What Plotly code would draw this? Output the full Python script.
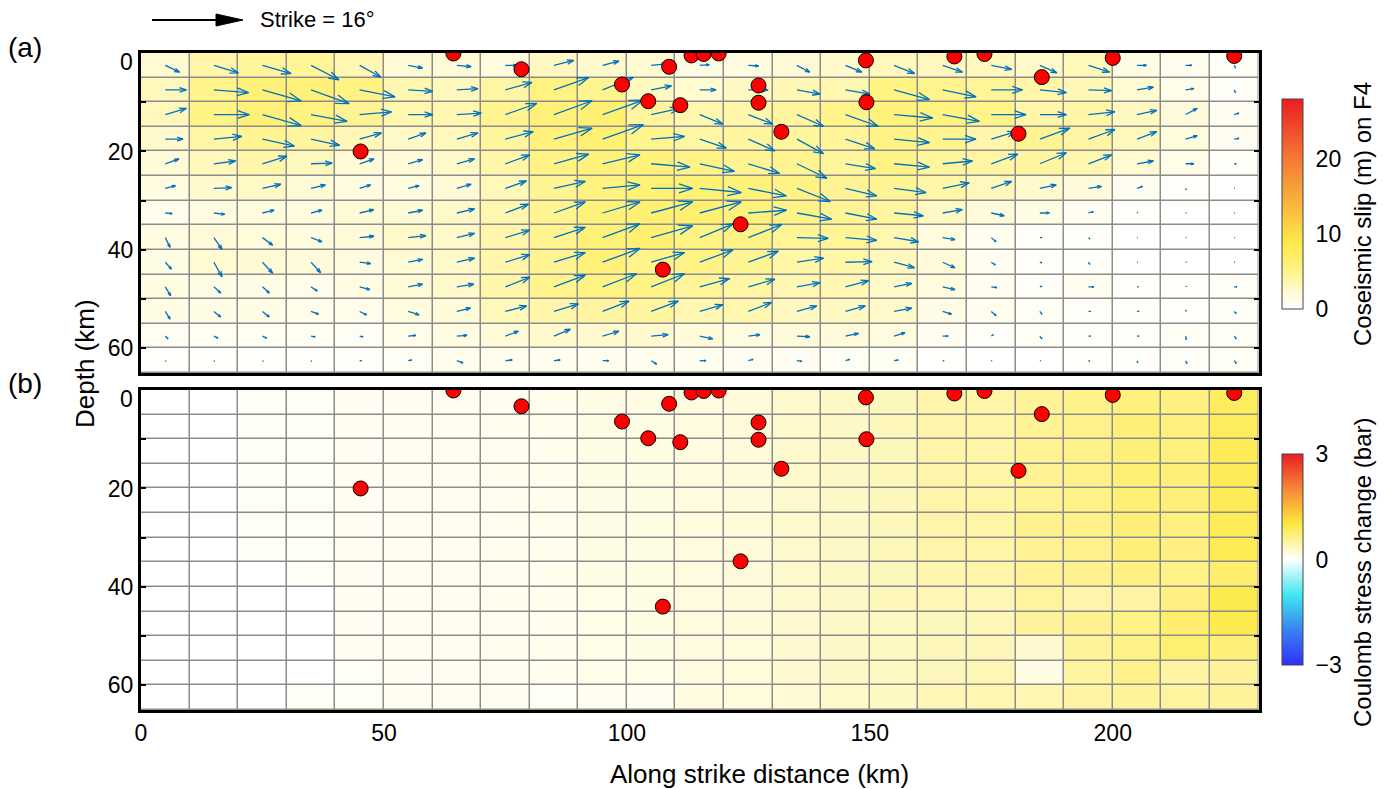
import numpy as np
import plotly.graph_objects as go

# ---------------- fault grid (10 km along strike x 5 km down dip) ----------------
x_centers = np.arange(5, 230, 10)          # 23 patches along strike (km)
depth_centers = np.arange(2.5, 65, 5)      # 13 patches down dip (km)

# coseismic slip components on each patch (m): along strike / down the plot
strike_slip = [
    [2.1, 3.6, 4.2, 4.1, 3.1, 2.1, 2.1, 1.7, 2.9, 2.4, 2.3, 1.4, 1.5, 1.9, 2.4, 3.0, 2.9, 3.0, 2.5, 3.1, 1.4, 0.9, 0.2],
    [3.1, 5.1, 5.7, 5.6, 5.2, 3.6, 3.1, 3.9, 5.1, 4.5, 3.0, 2.4, 2.9, 3.4, 3.6, 5.2, 4.9, 4.6, 3.9, 3.4, 2.4, 1.2, 0.2],
    [3.1, 5.2, 5.7, 5.3, 4.7, 3.6, 3.6, 4.6, 5.6, 6.0, 4.2, 3.4, 3.6, 3.9, 4.8, 5.7, 5.4, 5.1, 3.9, 3.9, 2.9, 1.7, 0.7],
    [2.6, 4.1, 4.7, 4.2, 3.2, 2.6, 3.1, 4.1, 5.6, 6.0, 4.9, 3.9, 3.9, 3.9, 4.3, 5.2, 4.9, 3.6, 4.4, 3.9, 2.9, 1.7, 0.7],
    [2.0, 3.2, 3.6, 3.1, 2.1, 2.1, 2.6, 3.6, 5.1, 5.5, 5.7, 5.1, 4.6, 4.4, 4.4, 5.2, 4.4, 3.9, 3.9, 3.4, 2.4, 1.2, 0.3],
    [1.5, 2.6, 2.7, 2.1, 1.6, 1.6, 2.1, 3.1, 4.6, 5.5, 6.1, 6.1, 5.6, 4.9, 4.6, 4.7, 3.9, 3.0, 2.4, 1.9, 0.8, 0.1, 0.1],
    [1.0, 1.6, 1.7, 1.6, 2.1, 2.1, 2.6, 3.4, 4.6, 5.5, 6.1, 6.1, 5.6, 5.1, 4.6, 4.3, 2.9, 1.9, 1.4, 0.7, 0.1, 0.1, 0.1],
    [0.7, 1.2, 1.5, 1.6, 2.1, 2.6, 2.6, 3.6, 4.6, 5.5, 6.1, 4.9, 4.9, 4.6, 4.6, 3.6, 1.8, 0.7, 0.3, 0.2, 0.1, 0.1, 0.1],
    [0.9, 1.2, 1.5, 1.4, 1.6, 2.1, 2.6, 3.6, 4.6, 5.5, 4.9, 4.9, 4.4, 3.9, 3.9, 3.0, 1.8, 0.6, 0.3, 0.2, 0.1, 0.1, 0.1],
    [0.8, 1.0, 1.0, 0.9, 1.5, 2.1, 2.5, 3.6, 4.6, 5.0, 4.9, 4.4, 3.9, 3.4, 3.4, 2.6, 1.8, 0.8, 0.3, 0.8, 0.2, 0.1, 0.4],
    [0.7, 1.0, 1.0, 1.1, 1.0, 1.6, 2.0, 3.1, 3.6, 3.9, 4.0, 3.4, 3.4, 2.9, 2.9, 2.6, 1.3, 0.7, 0.3, 0.3, 0.3, 0.1, 0.3],
    [0.4, 0.6, 0.6, 0.6, 0.5, 1.1, 1.5, 1.9, 2.4, 2.4, 2.5, 1.9, 1.7, 1.9, 1.9, 1.6, 0.8, 0.3, 0.3, 0.3, 0.3, 0.1, 0.3],
    [0.1, 0.1, 0.1, 0.1, 0.3, 0.5, 0.9, 1.0, 0.9, 0.9, 0.8, 0.9, 0.7, 0.7, 0.6, 0.6, 0.2, 0.1, 0.1, 0.2, 0.1, 0.2, 0.3],
]
dip_slip = [
    [1.0, 1.1, 1.2, 2.1, 1.7, 0.4, 0.2, 0.0, -0.7, -0.6, -0.2, -0.1, 0.1, 1.0, 1.0, 1.2, 1.0, 0.6, 1.1, 1.0, 0.0, 0.0, 0.4],
    [0.0, 0.4, 1.6, 2.0, 1.0, 0.2, -0.2, -1.1, -1.8, -1.8, -0.6, 0.0, 0.0, 0.6, 0.6, 1.4, 1.0, 0.0, 0.4, 0.1, -0.4, -0.2, 0.4],
    [-0.9, 0.0, 1.6, 1.0, -0.4, 0.0, -0.2, -1.6, -2.0, -2.1, -0.9, 1.4, 1.4, 1.7, 1.7, 0.5, 1.0, 0.0, 0.0, -0.4, -0.6, -0.9, -0.2],
    [0.0, -0.4, 1.0, 0.9, -0.9, -0.9, -0.9, -1.1, -1.6, -2.1, -0.4, 1.3, 1.7, 2.1, 1.4, 0.5, 0.0, -1.1, -1.6, -1.4, -1.1, -0.5, -0.1],
    [-0.7, -0.4, -1.1, -0.1, -0.7, -0.6, -0.7, -1.3, -1.4, -1.3, 0.5, 1.1, 1.4, 2.1, 0.7, 0.5, -0.4, -1.4, -1.6, -1.3, -0.4, 0.0, 0.0],
    [-0.4, -0.1, -0.6, -0.5, -0.5, -0.4, -0.6, -1.1, -1.0, -0.5, 0.0, 0.6, 1.1, 1.9, 1.1, 0.6, -0.8, -1.0, -0.5, -0.3, -0.3, 0.2, 0.0],
    [0.1, 0.2, -0.4, -0.4, -0.5, -0.4, -0.6, -1.3, -1.6, -1.6, -1.6, -1.6, -0.4, 0.9, 0.9, 0.4, -0.5, 0.4, 0.0, -0.2, -0.1, 0.0, 0.0],
    [1.4, 1.7, 1.1, 0.6, -0.2, -0.3, -0.6, -1.1, -1.5, -2.0, -1.7, -2.0, -1.9, 0.1, 0.4, 0.6, 0.3, 0.6, 0.0, 0.2, 0.0, 0.0, 0.0],
    [1.0, 2.1, 1.6, 1.5, 0.2, -0.4, -0.6, -1.1, -1.4, -2.0, -1.4, -1.8, -1.6, -0.6, -0.1, 0.8, 0.8, 0.4, 0.1, 0.3, 0.0, 0.0, 0.0],
    [1.3, 0.9, 0.9, 0.6, 0.4, -0.4, -0.4, -1.4, -1.7, -1.9, -1.9, -1.2, -1.1, -0.6, -0.9, -0.5, 0.4, 0.1, -0.1, 0.0, 0.0, -0.1, 0.0],
    [1.1, 0.8, 0.8, 0.4, 0.5, 0.5, -0.5, -0.8, -1.1, -1.5, -1.5, -1.0, -1.3, -0.8, -0.8, -0.5, 0.4, 0.6, 0.4, 0.0, 0.0, -0.2, 0.3],
    [0.4, 0.3, 0.3, 0.1, 0.1, -0.1, -0.1, -0.7, -1.0, -0.7, -0.2, 0.4, -0.2, 0.1, -0.4, -0.5, 0.0, -0.2, 0.4, 0.0, 0.0, 0.5, 0.4],
    [0.1, 0.1, 0.1, 0.1, 0.0, -0.1, 0.3, -0.1, -0.1, 0.0, 0.5, 0.0, -0.2, 0.1, -0.2, -0.1, 0.0, 0.0, 0.0, 0.1, 0.3, 0.4, 0.4],
]

# Coulomb stress change on each patch (bar)
coulomb = [
    [0, 0, 0.05, 0.06, 0.07, 0.08, 0.08, 0.09, 0.10, 0.13, 0.14, 0.17, 0.20, 0.26, 0.30, 0.35, 0.44, 0.46, 0.54, 0.60, 0.68, 0.66, 0.84],
    [0, 0, 0.05, 0.06, 0.07, 0.08, 0.08, 0.09, 0.10, 0.13, 0.14, 0.17, 0.20, 0.26, 0.30, 0.35, 0.44, 0.46, 0.56, 0.60, 0.70, 0.68, 0.86],
    [0, 0, 0.05, 0.06, 0.07, 0.08, 0.08, 0.09, 0.10, 0.13, 0.14, 0.17, 0.20, 0.26, 0.30, 0.35, 0.44, 0.46, 0.56, 0.60, 0.70, 0.68, 0.88],
    [0, 0, 0.05, 0.06, 0.07, 0.08, 0.08, 0.09, 0.10, 0.13, 0.14, 0.17, 0.20, 0.26, 0.30, 0.35, 0.44, 0.46, 0.56, 0.62, 0.72, 0.70, 0.88],
    [0, 0, 0.05, 0.06, 0.07, 0.08, 0.08, 0.09, 0.10, 0.13, 0.14, 0.17, 0.20, 0.26, 0.30, 0.35, 0.44, 0.46, 0.56, 0.62, 0.72, 0.70, 0.88],
    [0, 0, 0.05, 0.06, 0.07, 0.08, 0.08, 0.09, 0.10, 0.13, 0.14, 0.17, 0.20, 0.26, 0.30, 0.35, 0.44, 0.46, 0.58, 0.62, 0.70, 0.68, 0.88],
    [0, 0, 0.05, 0.06, 0.07, 0.08, 0.08, 0.09, 0.10, 0.13, 0.14, 0.17, 0.20, 0.26, 0.30, 0.35, 0.44, 0.46, 0.56, 0.60, 0.70, 0.66, 0.90],
    [0, 0, 0.00, 0.06, 0.07, 0.08, 0.08, 0.09, 0.10, 0.13, 0.14, 0.17, 0.20, 0.26, 0.30, 0.35, 0.42, 0.44, 0.56, 0.58, 0.66, 0.64, 0.76],
    [0, 0, 0.00, 0.00, 0.07, 0.08, 0.08, 0.09, 0.10, 0.12, 0.14, 0.17, 0.20, 0.26, 0.30, 0.35, 0.37, 0.37, 0.50, 0.44, 0.48, 0.66, 0.92],
    [0, 0, 0.00, 0.00, 0.07, 0.08, 0.08, 0.09, 0.10, 0.12, 0.14, 0.17, 0.20, 0.25, 0.29, 0.32, 0.35, 0.37, 0.53, 0.58, 0.64, 0.76, 0.92],
    [0, 0, 0.00, 0.00, 0.07, 0.08, 0.08, 0.09, 0.10, 0.12, 0.13, 0.16, 0.19, 0.25, 0.29, 0.32, 0.35, 0.35, 0.25, 0.53, 0.64, 0.74, 0.70],
    [0, 0, 0.00, 0.00, 0.06, 0.07, 0.08, 0.08, 0.09, 0.11, 0.12, 0.16, 0.19, 0.25, 0.29, 0.32, 0.35, 0.39, 0.14, 0.50, 0.60, 0.48, 0.53],
    [0, 0, 0.00, 0.05, 0.06, 0.07, 0.07, 0.07, 0.05, 0.07, 0.08, 0.15, 0.18, 0.23, 0.28, 0.32, 0.37, 0.41, 0.41, 0.48, 0.53, 0.50, 0.53],
]

# aftershock hypocentres
quake_x = [45.2, 64.3, 78.3, 99.0, 104.4, 108.7, 111.0, 113.3, 115.8, 118.9, 127.1, 127.1,
           131.8, 123.4, 107.4, 149.2, 149.3, 167.4, 173.6, 180.6, 185.4, 200.0, 225.0]
quake_depth = [20.0, 0.1, 3.3, 6.4, 9.8, 2.8, 10.6, 0.5, 0.2, 0.1, 6.6, 10.1,
               16.0, 34.8, 44.0, 1.5, 10.0, 0.7, 0.2, 16.4, 4.9, 1.0, 0.6]

depth_ticks = [0, 10, 20, 30, 40, 50, 60]
depth_labels = ["", "", "20", "", "40", "", "60"]   # the 0 label sits just inside the top edge
dist_ticks = [0, 50, 100, 150, 200]

ARROW_KM_PER_M = 1.4   # quiver length scale
FONT = "Liberation Sans, Arial, Helvetica, sans-serif"

# Layout is worked out in figure pixels (origin at the top-left corner).
FIG_W, FIG_H = 1391, 789


def fx(px):
    return px / FIG_W


def fy(py):
    return 1 - py / FIG_H


ss = np.array(strike_slip)
ds = np.array(dip_slip)
slip_mag = np.sqrt(ss ** 2 + ds ** 2)

# quiver segments (shaft + open head), MATLAB-style head proportions
qx, qy = [], []
alpha, beta = 0.33, 0.33
for r, yc in enumerate(depth_centers):
    for c, xc in enumerate(x_centers):
        u = ss[r, c] * ARROW_KM_PER_M
        v = ds[r, c] * ARROW_KM_PER_M
        x1, y1 = xc + u, yc + v
        qx += [xc, x1, None,
               x1 - alpha * (u + beta * v), x1, x1 - alpha * (u - beta * v), None]
        qy += [yc, y1, None,
               y1 - alpha * (v - beta * u), y1, y1 - alpha * (v + beta * u), None]

slip_scale = [[0, "#ffffff"], [0.08, "#fffad4"], [0.2, "#fff27c"], [0.32, "#fee94a"],
              [0.5, "#f9b53d"], [0.72, "#f47833"], [1, "#ec1c24"]]
stress_scale = [[0, "#2f2fff"], [0.17, "#3a85f0"], [0.33, "#3fe6f2"], [0.5, "#ffffff"],
                [0.67, "#fde83c"], [0.83, "#f58b38"], [1, "#ec1c24"]]

cbar_common = dict(
    x=fx(1282), xanchor="left", xpad=0, ypad=0, thickness=21,
    outlinewidth=1, outlinecolor="#444",
    ticks="outside", ticklen=8, tickcolor="rgba(0,0,0,0)",
    tickfont=dict(size=23, family=FONT, color="black"),
)

fig = go.Figure()

fig.add_trace(go.Heatmap(
    x=x_centers, y=depth_centers, z=slip_mag, zmin=0, zmax=28,
    colorscale=slip_scale, xgap=1.5, ygap=1.5, xaxis="x", yaxis="y",
    hoverinfo="skip",
    colorbar=dict(cbar_common, y=fy(204), yanchor="middle", len=210 / FIG_H,
                  tickvals=[0, 10, 20]),
))
fig.add_trace(go.Scatter(
    x=qx, y=qy, mode="lines", line=dict(color="#0072BD", width=1.3),
    xaxis="x", yaxis="y", hoverinfo="skip", showlegend=False,
))
fig.add_trace(go.Scatter(
    x=quake_x, y=quake_depth, mode="markers", xaxis="x", yaxis="y",
    marker=dict(size=15, color="#ff0000", line=dict(color="black", width=1)),
    showlegend=False,
))

fig.add_trace(go.Heatmap(
    x=x_centers, y=depth_centers, z=coulomb, zmin=-3, zmax=3,
    colorscale=stress_scale, xgap=1.5, ygap=1.5, xaxis="x2", yaxis="y2",
    hoverinfo="skip",
    colorbar=dict(cbar_common, y=fy(559.5), yanchor="middle", len=211 / FIG_H,
                  tickvals=[-3, 0, 3], ticktext=["\u22123", "0", "3"]),
))
fig.add_trace(go.Scatter(
    x=quake_x, y=quake_depth, mode="markers", xaxis="x2", yaxis="y2",
    marker=dict(size=15, color="#ff0000", line=dict(color="black", width=1)),
    showlegend=False,
))

x_dom = [fx(141), fx(1258.5)]
axis_common = dict(showline=True, linecolor="black", linewidth=3, mirror=True,
                   showgrid=False, zeroline=False)
yaxis_common = dict(axis_common, range=[65, 0], tickvals=depth_ticks, ticktext=depth_labels,
                    ticks="inside", ticklen=5, tickwidth=2, tickcolor="black",
                    tickfont=dict(size=23, family=FONT, color="black"))
yaxis_common["mirror"] = "ticks"

fig.update_layout(
    width=FIG_W, height=FIG_H,
    margin=dict(l=0, r=0, t=0, b=0, autoexpand=False),
    paper_bgcolor="white", plot_bgcolor="#8c8c8c",
    showlegend=False,
    font=dict(family=FONT, color="black"),
    xaxis=dict(axis_common, domain=x_dom, range=[0, 230], anchor="y",
               showticklabels=False, ticks=""),
    yaxis=dict(yaxis_common, domain=[fy(373), fy(53)], anchor="x"),
    xaxis2=dict(axis_common, domain=x_dom, range=[0, 230], anchor="y2",
                tickvals=dist_ticks, ticks="",
                tickfont=dict(size=23, family=FONT, color="black")),
    yaxis2=dict(yaxis_common, domain=[fy(710), fy(390)], anchor="x2"),
)

annotations = [
    dict(text="(a)", x=fx(6), y=fy(48), xanchor="left", yanchor="middle",
         font=dict(size=28)),
    dict(text="(b)", x=fx(6), y=fy(383), xanchor="left", yanchor="middle",
         font=dict(size=28)),
    dict(text="0", x=fx(135), y=fy(61.5), xanchor="right", yanchor="middle",
         font=dict(size=23)),
    dict(text="0", x=fx(135), y=fy(399), xanchor="right", yanchor="middle",
         font=dict(size=23)),
    dict(text="Depth (km)", x=fx(85), y=fy(364), textangle=-90,
         xanchor="center", yanchor="middle", font=dict(size=26)),
    dict(text="Along strike distance (km)", x=fx(759), y=fy(774),
         xanchor="center", yanchor="middle", font=dict(size=26)),
    dict(text="Coseismic slip (m) on F4", x=fx(1362), y=fy(214), textangle=-90,
         xanchor="center", yanchor="middle", font=dict(size=24)),
    dict(text="Coulomb stress change (bar)", x=fx(1362), y=fy(573), textangle=-90,
         xanchor="center", yanchor="middle", font=dict(size=24)),
    dict(text="Strike = 16\u00b0", x=fx(258), y=fy(20), xanchor="left",
         yanchor="middle", font=dict(size=22)),
]
for a in annotations:
    a.update(xref="paper", yref="paper", showarrow=False)
fig.update_layout(annotations=annotations)

# strike direction arrow (page decoration)
fig.update_layout(shapes=[
    dict(type="line", xref="paper", yref="paper", x0=fx(152), y0=fy(20),
         x1=fx(222), y1=fy(20), line=dict(color="black", width=2)),
    dict(type="path", xref="paper", yref="paper",
         path=f"M {fx(216)},{fy(14)} L {fx(243)},{fy(20)} L {fx(216)},{fy(26)} Z",
         fillcolor="black", line=dict(color="black", width=1)),
])

fig.write_html("out.html")
